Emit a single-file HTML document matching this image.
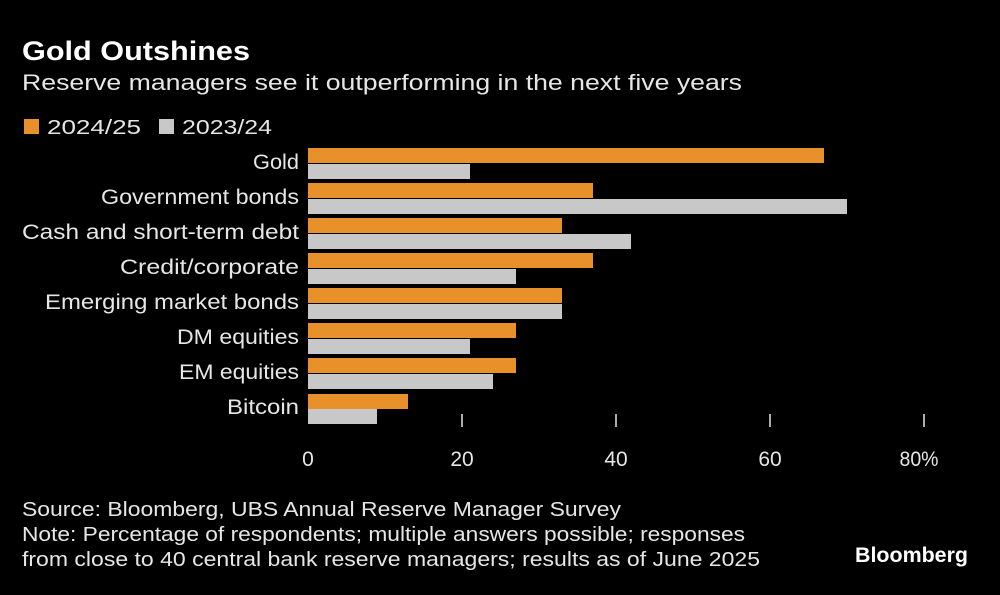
<!DOCTYPE html><html><head><style>
body{margin:0;background:#000;width:1000px;height:590px;overflow:hidden}
</style></head><body>
<svg width="1000" height="590" xmlns="http://www.w3.org/2000/svg" font-family="Liberation Sans, DejaVu Sans, sans-serif">
<rect width="1000" height="590" fill="#000"/>
<text x="22" y="60" font-size="27" font-weight="bold" fill="#fff" textLength="228" lengthAdjust="spacingAndGlyphs">Gold Outshines</text>
<text x="22" y="90" font-size="22" fill="#e6e6e6" textLength="720" lengthAdjust="spacingAndGlyphs">Reserve managers see it outperforming in the next five years</text>
<rect x="24" y="119" width="15" height="15" fill="#e8912a"/>
<text x="47" y="134" font-size="20" fill="#e6e6e6" textLength="94" lengthAdjust="spacingAndGlyphs">2024/25</text>
<rect x="159" y="119" width="15" height="15" fill="#c8c8c8"/>
<text x="182" y="134" font-size="20" fill="#e6e6e6" textLength="90" lengthAdjust="spacingAndGlyphs">2023/24</text>
<g font-size="21" fill="#e6e6e6">
<text x="253" y="169" textLength="46" lengthAdjust="spacingAndGlyphs">Gold</text>
<text x="101" y="204" textLength="198" lengthAdjust="spacingAndGlyphs">Government bonds</text>
<text x="22" y="239" textLength="277" lengthAdjust="spacingAndGlyphs">Cash and short-term debt</text>
<text x="120" y="274" textLength="179" lengthAdjust="spacingAndGlyphs">Credit/corporate</text>
<text x="45" y="309" textLength="254" lengthAdjust="spacingAndGlyphs">Emerging market bonds</text>
<text x="177" y="344" textLength="122" lengthAdjust="spacingAndGlyphs">DM equities</text>
<text x="179" y="379" textLength="120" lengthAdjust="spacingAndGlyphs">EM equities</text>
<text x="227" y="414" textLength="72" lengthAdjust="spacingAndGlyphs">Bitcoin</text>
</g>
<g>
<rect x="308" y="148" width="516" height="15" fill="#e8912a"/><rect x="308" y="164" width="162" height="15" fill="#c8c8c8"/>
<rect x="308" y="183" width="285" height="15" fill="#e8912a"/><rect x="308" y="199" width="539" height="15" fill="#c8c8c8"/>
<rect x="308" y="218" width="254" height="15" fill="#e8912a"/><rect x="308" y="234" width="323" height="15" fill="#c8c8c8"/>
<rect x="308" y="253" width="285" height="15" fill="#e8912a"/><rect x="308" y="269" width="208" height="15" fill="#c8c8c8"/>
<rect x="308" y="288" width="254" height="15" fill="#e8912a"/><rect x="308" y="304" width="254" height="15" fill="#c8c8c8"/>
<rect x="308" y="323" width="208" height="15" fill="#e8912a"/><rect x="308" y="339" width="162" height="15" fill="#c8c8c8"/>
<rect x="308" y="358" width="208" height="15" fill="#e8912a"/><rect x="308" y="374" width="185" height="15" fill="#c8c8c8"/>
<rect x="308" y="394" width="100" height="15" fill="#e8912a"/><rect x="308" y="409" width="69" height="15" fill="#c8c8c8"/>
</g>
<g stroke="#e6e6e6" stroke-width="1.5">
<line x1="462" y1="414" x2="462" y2="427"/><line x1="616" y1="414" x2="616" y2="427"/><line x1="770" y1="414" x2="770" y2="427"/><line x1="924" y1="414" x2="924" y2="427"/>
</g>
<g font-size="21" fill="#e6e6e6" text-anchor="middle">
<text x="308" y="466">0</text><text x="462" y="466">20</text><text x="616" y="466">40</text><text x="770" y="466">60</text><text x="919" y="466" textLength="39" lengthAdjust="spacingAndGlyphs">80%</text>
</g>
<g font-size="20" fill="#e6e6e6">
<text x="22" y="516" textLength="599" lengthAdjust="spacingAndGlyphs">Source: Bloomberg, UBS Annual Reserve Manager Survey</text>
<text x="22" y="541" textLength="723" lengthAdjust="spacingAndGlyphs">Note: Percentage of respondents; multiple answers possible; responses</text>
<text x="22" y="566" textLength="738" lengthAdjust="spacingAndGlyphs">from close to 40 central bank reserve managers; results as of June 2025</text>
</g>
<text x="855" y="562" font-size="21" font-weight="bold" fill="#fff" textLength="113" lengthAdjust="spacingAndGlyphs">Bloomberg</text>
</svg>
</body></html>
